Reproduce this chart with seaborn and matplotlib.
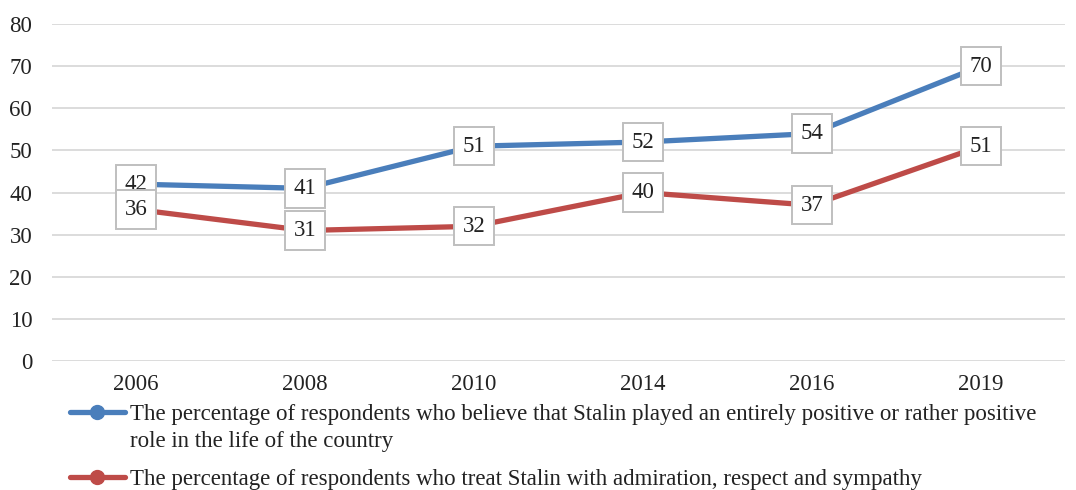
import matplotlib.pyplot as plt
import seaborn as sns
import pandas as pd
from matplotlib.lines import Line2D

years = ["2006", "2008", "2010", "2014", "2016", "2019"]
positive_role = [42, 41, 51, 52, 54, 70]
admiration = [36, 31, 32, 40, 37, 51]

label_positive_1 = "The percentage of respondents who believe that Stalin played an entirely positive or rather positive"
label_positive_2 = "role in the life of the country"
label_admire = "The percentage of respondents who treat Stalin with admiration, respect and sympathy"

blue = "#4A7EBB"
red = "#BE4B48"
fs = 16.5

df = pd.DataFrame({
    "Year": years * 2,
    "Value": positive_role + admiration,
    "Series": ["positive"] * len(years) + ["admire"] * len(years),
})

sns.set_style("white")
plt.rcParams["font.family"] = ["Liberation Serif", "DejaVu Serif"]

fig = plt.figure(figsize=(10.76, 4.90), dpi=100)
ax = fig.add_axes([0.048, 0.263, 0.942, 0.688])

sns.lineplot(data=df, x="Year", y="Value", hue="Series", sort=False,
             palette={"positive": blue, "admire": red}, linewidth=3.8,
             legend=False, ax=ax)

# data labels in boxes
box = dict(boxstyle="square,pad=0.38", facecolor="white", edgecolor="#BFBFBF", linewidth=1.4)
for i, (p, a) in enumerate(zip(positive_role, admiration)):
    ax.text(i, p, str(p), ha="center", va="center", fontsize=fs, color="#222222", bbox=box, zorder=5)
    ax.text(i, a, str(a), ha="center", va="center", fontsize=fs, color="#222222", bbox=box, zorder=6)

ax.set_ylim(0, 80)
ax.set_xlim(-0.5, len(years) - 0.5)
ax.set_yticks(range(0, 81, 10))
ax.yaxis.grid(True, color="#D9D9D9", linewidth=1.3)
ax.set_axisbelow(True)
for s in ax.spines.values():
    s.set_visible(False)
ax.tick_params(axis="both", labelsize=fs, colors="#222222", length=0)
ax.tick_params(axis="x", pad=9)
ax.tick_params(axis="y", pad=14)
ax.set_xlabel("")
ax.set_ylabel("")

# legend below the plot, first entry wraps onto a second line
leg_kw = dict(loc="center left", frameon=False, fontsize=fs, handlelength=2.4,
              handletextpad=0.2, borderaxespad=0, borderpad=0)
h_blue = Line2D([0], [0], color=blue, linewidth=3.8, marker="o", markersize=10)
h_red = Line2D([0], [0], color=red, linewidth=3.8, marker="o", markersize=10)
leg1 = fig.legend([h_blue], [label_positive_1], bbox_to_anchor=(0.065, 0.155), **leg_kw)
fig.text(0.1205, 0.100, label_positive_2, fontsize=fs, color="#222222", va="center", ha="left")
leg2 = fig.legend([h_red], [label_admire], bbox_to_anchor=(0.065, 0.022), **leg_kw)
for lg in (leg1, leg2):
    for t in lg.get_texts():
        t.set_color("#222222")

fig.savefig("out.png", dpi=100)
